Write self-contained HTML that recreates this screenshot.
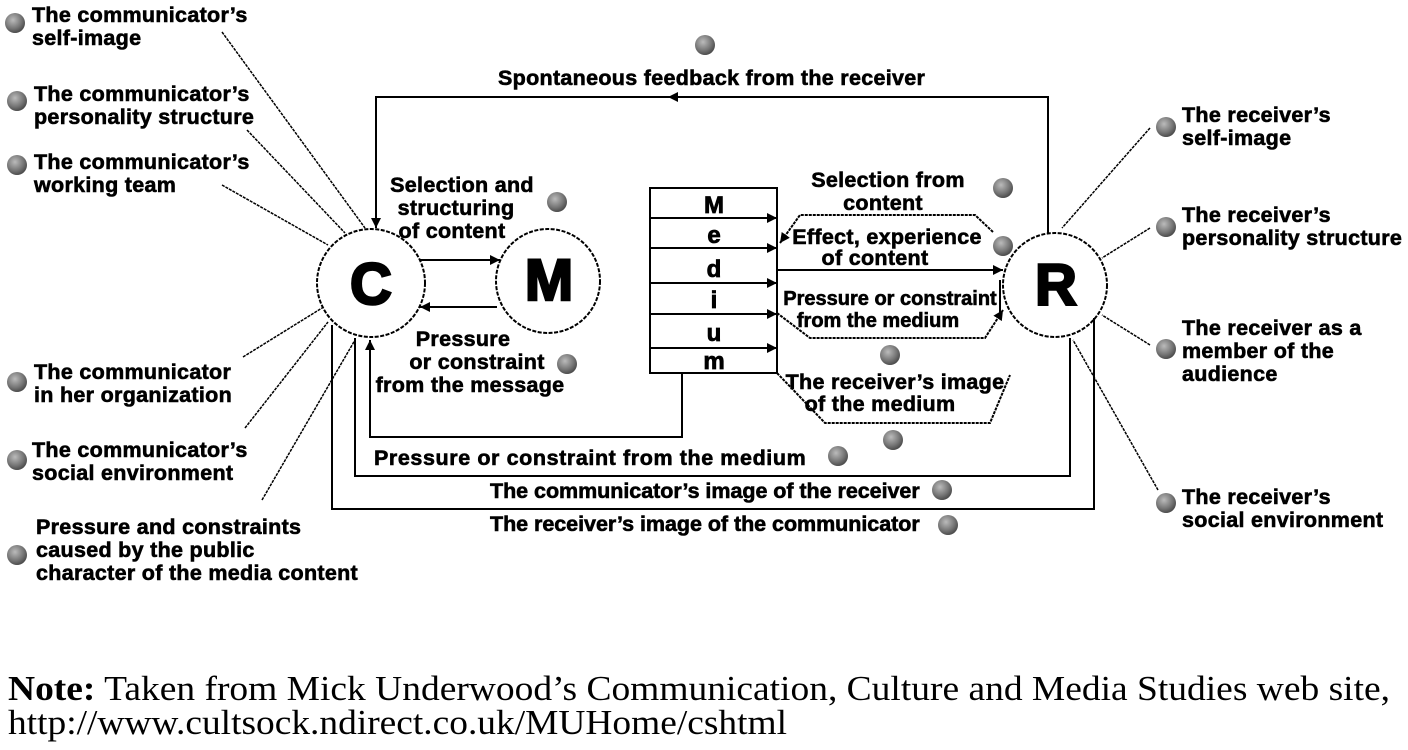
<!DOCTYPE html>
<html><head><meta charset="utf-8"><style>
html,body{margin:0;padding:0;background:#fff;width:1408px;height:750px;overflow:hidden}
svg{display:block}
.t{font-family:"Liberation Sans",Arial,sans-serif;font-weight:bold;font-size:21.5px;letter-spacing:0.3px;fill:#000;stroke:#000;stroke-width:0.6px}
.n{font-family:"Liberation Serif",serif;font-size:35px;fill:#000}
</style></head><body>
<svg width="1408" height="750" viewBox="0 0 1408 750" xmlns="http://www.w3.org/2000/svg">
<defs>
<radialGradient id="b" cx="0.4" cy="0.35" r="0.7"><stop offset="0" stop-color="#bbb"/><stop offset="0.6" stop-color="#777"/><stop offset="1" stop-color="#444"/></radialGradient>
<marker id="a" viewBox="0 0 10 10" refX="10" refY="5" markerWidth="10" markerHeight="10" markerUnits="userSpaceOnUse" orient="auto"><path d="M0,0L10,5L0,10z" fill="#000"/></marker>
</defs>
<g fill="none" stroke="#000" stroke-width="2">
<circle cx="371" cy="283" r="54" stroke-dasharray="4,1.5"/>
<circle cx="548" cy="281" r="52" stroke-dasharray="4,1.5"/>
<circle cx="1055" cy="285" r="52" stroke-dasharray="4,1.5"/>
<rect x="650" y="188" width="127" height="185"/>
<path d="M650,218H777M650,248H777M650,283H777M650,314H777M650,348H777"/>
</g>
<g stroke="#000" stroke-width="2" fill="none">
<path d="M770,218H777" marker-end="url(#a)"/>
<path d="M770,248H777" marker-end="url(#a)"/>
<path d="M770,283H777" marker-end="url(#a)"/>
<path d="M770,314H777" marker-end="url(#a)"/>
<path d="M770,348H777" marker-end="url(#a)"/>
<path d="M1048,233V97H376V228" marker-end="url(#a)"/>
<path d="M700,97H668" marker-end="url(#a)"/>
<path d="M420,260H500" marker-end="url(#a)"/>
<path d="M497,307H420" marker-end="url(#a)"/>
<path d="M682,373V437H370V340" marker-end="url(#a)"/>
<path d="M355,338V476H1070V338"/>
<path d="M332,325V509H1094V318"/>
<path d="M777,270H1003" marker-end="url(#a)"/>
<path d="M993,232L975,215H800L780,243" marker-end="url(#a)" stroke-dasharray="3,1"/>
<path d="M777,313L810,338H985L1003,310" marker-end="url(#a)" stroke-dasharray="3,1"/>
<path d="M777,373L825,423H990L1010,375" stroke-dasharray="3,1"/>
<path d="M1000,280V315" />
</g>
<g stroke="#000" stroke-width="1.5" stroke-dasharray="3,1" fill="none">
<path d="M222,32L365,228"/>
<path d="M247,130L345,233"/>
<path d="M222,185L328,245"/>
<path d="M243,357L322,308"/>
<path d="M245,428L328,322"/>
<path d="M262,500L355,340"/>
<path d="M1150,128L1062,228"/>
<path d="M1150,228L1102,258"/>
<path d="M1150,345L1102,315"/>
<path d="M1158,490L1073,340"/>
</g>
<g font-family="Liberation Sans,Arial,sans-serif" font-weight="bold" font-size="58" text-anchor="middle" stroke="#000" stroke-width="2.5">
<text x="371" y="304">C</text><text x="549" y="300">M</text><text x="1056" y="305">R</text>
</g>
<g text-anchor="middle" font-family="Liberation Sans,Arial,sans-serif" font-weight="bold" font-size="24" stroke="#000" stroke-width="0.8">
<text x="714" y="213">M</text>
<text x="714" y="243">e</text>
<text x="714" y="277">d</text>
<text x="714" y="308">i</text>
<text x="714" y="341">u</text>
<text x="714" y="369">m</text>
</g>
<g fill="url(#b)">
<circle cx="15" cy="23" r="10"/><circle cx="17" cy="101" r="10"/><circle cx="17" cy="165" r="10"/>
<circle cx="17" cy="382" r="10"/><circle cx="17" cy="460" r="10"/><circle cx="17" cy="555" r="10"/>
<circle cx="705" cy="45" r="10"/><circle cx="557" cy="202" r="10"/><circle cx="1003" cy="188" r="10"/>
<circle cx="1003" cy="246" r="10"/><circle cx="567" cy="364" r="10"/><circle cx="890" cy="355" r="10"/>
<circle cx="893" cy="440" r="10"/><circle cx="838" cy="456" r="10"/><circle cx="942" cy="490" r="10"/>
<circle cx="948" cy="525" r="10"/><circle cx="1166" cy="127" r="10"/><circle cx="1166" cy="227" r="10"/>
<circle cx="1166" cy="349" r="10"/><circle cx="1166" cy="503" r="10"/>
</g>
<g class="t">
<text x="32" y="22">The communicator’s</text><text x="32" y="45">self-image</text>
<text x="34" y="101">The communicator’s</text><text x="34" y="124">personality structure</text>
<text x="34" y="169">The communicator’s</text><text x="34" y="192">working team</text>
<text x="34" y="379">The communicator</text><text x="34" y="402">in her organization</text>
<text x="32" y="457">The communicator’s</text><text x="32" y="480">social environment</text>
<text x="36" y="534">Pressure and constraints</text><text x="36" y="557">caused by the public</text><text x="36" y="580">character of the media content</text>
<text x="1182" y="122">The receiver’s</text><text x="1182" y="145">self-image</text>
<text x="1182" y="222">The receiver’s</text><text x="1182" y="245">personality structure</text>
<text x="1182" y="335">The receiver as a</text><text x="1182" y="358">member of the</text><text x="1182" y="381">audience</text>
<text x="1182" y="504">The receiver’s</text><text x="1182" y="527">social environment</text>
<text x="498" y="85">Spontaneous feedback from the receiver</text>
<text x="374" y="465" textLength="432">Pressure or constraint from the medium</text>
<text x="490" y="498" textLength="430">The communicator’s image of the receiver</text>
<text x="490" y="531" textLength="430">The receiver’s image of the communicator</text>
</g>
<g class="t" text-anchor="middle">
<text x="462" y="192">Selection and</text><text x="456" y="215">structuring</text><text x="452" y="238">of content</text>
<text x="463" y="346">Pressure</text><text x="477" y="369">or constraint</text><text x="470" y="392">from the message</text>
<text x="888" y="187">Selection from</text><text x="883" y="210">content</text>
<text x="887" y="244">Effect, experience</text><text x="875" y="265">of content</text>
<text x="890" y="305" style="font-size:20px;letter-spacing:0">Pressure or constraint</text><text x="878" y="327" style="font-size:20px;letter-spacing:0">from the medium</text>
<text x="895" y="389">The receiver’s image</text><text x="880" y="411">of the medium</text>
</g>
<text class="n" x="8" y="700" textLength="1382" lengthAdjust="spacingAndGlyphs"><tspan font-weight="bold">Note:</tspan> Taken from Mick Underwood’s Communication, Culture and Media Studies web site,</text>
<text class="n" x="8" y="734" textLength="779" lengthAdjust="spacingAndGlyphs">http://www.cultsock.ndirect.co.uk/MUHome/cshtml</text>
</svg>
</body></html>
